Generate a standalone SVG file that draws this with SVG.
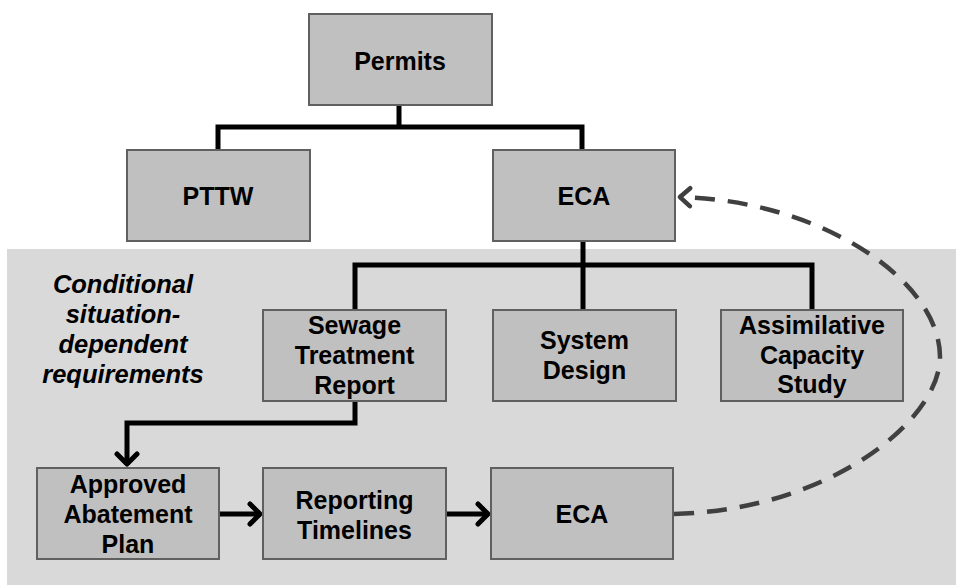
<svg xmlns="http://www.w3.org/2000/svg" width="956" height="585" viewBox="0 0 956 585">
<defs>
<style>
.box{fill:#c0c0c0;stroke:#606060;stroke-width:2}
.t{font-family:"Liberation Sans",Arial,sans-serif;font-weight:bold;font-size:25px;fill:#000;text-anchor:middle}
.it{font-style:italic;font-size:25.5px}
.c{fill:none;stroke:#000;stroke-width:5}
.d{fill:none;stroke:#404040;stroke-width:4.5;stroke-dasharray:20 13}
</style>
<marker id="ah" viewBox="0 0 18 26" refX="14" refY="13" markerWidth="18" markerHeight="26" markerUnits="userSpaceOnUse" orient="auto">
<path d="M3,3 L13,13 L3,23" fill="none" stroke="#000" stroke-width="5" stroke-linejoin="round" stroke-linecap="round"/>
</marker>
<marker id="ahd" viewBox="0 0 18 26" refX="14" refY="13" markerWidth="18" markerHeight="26" markerUnits="userSpaceOnUse" orient="auto">
<path d="M3,4 L13,13 L3,22" fill="none" stroke="#404040" stroke-width="4.5" stroke-linejoin="round" stroke-linecap="round"/>
</marker>
</defs>
<rect x="0" y="0" width="956" height="585" fill="#fff"/>
<rect x="7" y="249" width="949" height="336" fill="#d9d9d9"/>
<g id="label-conditional">
<text class="t it" x="123" y="293">Conditional</text>
<text class="t it" x="123" y="323">situation-</text>
<text class="t it" x="123" y="353">dependent</text>
<text class="t it" x="123" y="383">requirements</text>
</g>
<g id="connectors">
<path class="c" d="M399,105 V127 M218,150 V127 H582 V150"/>
<path class="c" d="M583,241 V265 M355,310 V265 H812 V310 M583,265 V310"/>
<path class="c" d="M355,401 V423 H127 V465" marker-end="url(#ah)"/>
<path class="c" d="M219,514 H261" marker-end="url(#ah)"/>
<path class="c" d="M446,514 H489" marker-end="url(#ah)"/>
<path class="d" d="M674,514 C830,510 940,420 940,357 C940,280 820,200 679,197" marker-end="url(#ahd)"/>
</g>
<g id="permits"><rect class="box" x="309" y="14" width="183" height="91"/><text class="t" x="400" y="70">Permits</text></g>
<g id="pttw"><rect class="box" x="127" y="150" width="183" height="91"/><text class="t" x="218" y="205">PTTW</text></g>
<g id="eca-top"><rect class="box" x="493" y="150" width="182" height="91"/><text class="t" x="584" y="205">ECA</text></g>
<g id="sewage"><rect class="box" x="263" y="310" width="183" height="91"/><text class="t" x="354.5" y="334">Sewage</text><text class="t" x="354.5" y="364">Treatment</text><text class="t" x="354.5" y="394">Report</text></g>
<g id="system-design"><rect class="box" x="493" y="310" width="183" height="91"/><text class="t" x="584.5" y="349">System</text><text class="t" x="584.5" y="379">Design</text></g>
<g id="assimilative"><rect class="box" x="721" y="310" width="182" height="91"/><text class="t" x="812" y="334">Assimilative</text><text class="t" x="812" y="364">Capacity</text><text class="t" x="812" y="393">Study</text></g>
<g id="approved"><rect class="box" x="37" y="468" width="182" height="91"/><text class="t" x="128" y="493">Approved</text><text class="t" x="128" y="523">Abatement</text><text class="t" x="128" y="553">Plan</text></g>
<g id="reporting"><rect class="box" x="263" y="468" width="183" height="91"/><text class="t" x="354.5" y="509">Reporting</text><text class="t" x="354.5" y="539">Timelines</text></g>
<g id="eca-bottom"><rect class="box" x="491" y="468" width="182" height="91"/><text class="t" x="582" y="523">ECA</text></g>
</svg>
